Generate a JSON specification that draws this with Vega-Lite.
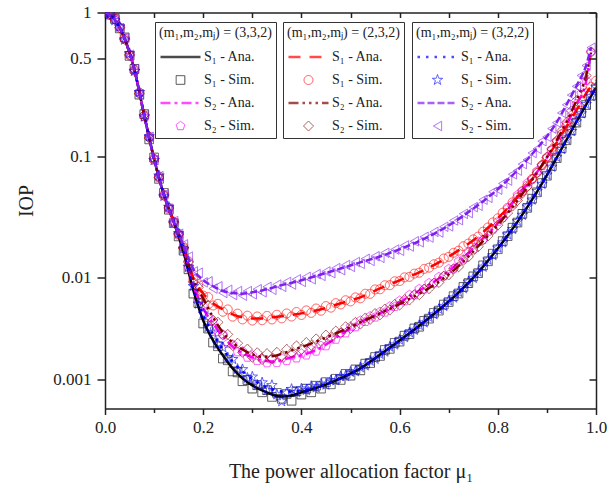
{
"$schema": "https://vega.github.io/schema/vega-lite/v6.json",
"width": 491, "height": 396,
"autosize": {"type": "none"},
"padding": {"left": 105, "top": 12.5, "right": 14, "bottom": 75.5},
"config": {
  "font": "Liberation Serif",
  "view": {"stroke": null},
  "axis": {"grid": false, "domainColor": "#222", "tickColor": "#222", "labelColor": "#222", "titleColor": "#222", "domainWidth": 1.5, "tickWidth": 1.5, "labelFontSize": 17, "titleFontSize": 20, "titleFontWeight": "normal", "labelFlush": false},
  "legend": {"orient": "none", "strokeColor": "#333", "padding": 4, "titleFontSize": 14, "titleFontWeight": "normal", "titleColor": "#222", "labelFontSize": 14, "labelColor": "#222", "titlePadding": 9, "rowPadding": 7, "clipHeight": 16, "labelOffset": 2, "symbolOffset": 0, "labelLimit": 0, "titleLimit": 0}
},
"datasets": {
"g1a": [
{"x":0,"S1A":1,"S2A":1},{"x":0.02,"S1A":0.9,"S2A":0.9},{"x":0.04,"S1A":0.676,"S2A":0.676},{"x":0.06,"S1A":0.417,"S2A":0.417},{"x":0.08,"S1A":0.2,"S2A":0.2},{"x":0.1,"S1A":0.0955,"S2A":0.0955},{"x":0.12,"S1A":0.0501,"S2A":0.0501},{"x":0.14,"S1A":0.0302,"S2A":0.0302},{"x":0.16,"S1A":0.0166,"S2A":0.0184},{"x":0.18,"S1A":0.0076,"S2A":0.00845},{"x":0.2,"S1A":0.00396,"S2A":0.00516},{"x":0.22,"S1A":0.00252,"S2A":0.00371},{"x":0.24,"S1A":0.00178,"S2A":0.00277},{"x":0.26,"S1A":0.0013,"S2A":0.00219},{"x":0.28,"S1A":0.00102,"S2A":0.00187},{"x":0.3,"S1A":0.000857,"S2A":0.0017},{"x":0.32,"S1A":0.000757,"S2A":0.00158},{"x":0.34,"S1A":0.000682,"S2A":0.00154},{"x":0.36,"S1A":0.000649,"S2A":0.00158},{"x":0.38,"S1A":0.000665,"S2A":0.0017},{"x":0.4,"S1A":0.000718,"S2A":0.00178},{"x":0.44,"S1A":0.000836,"S2A":0.00214},{"x":0.48,"S1A":0.00102,"S2A":0.00288},{"x":0.52,"S1A":0.0013,"S2A":0.0038},{"x":0.56,"S1A":0.0018,"S2A":0.00462},{"x":0.6,"S1A":0.00251,"S2A":0.00589},{"x":0.64,"S1A":0.00351,"S2A":0.00759},{"x":0.68,"S1A":0.00501,"S2A":0.00977},{"x":0.72,"S1A":0.00724,"S2A":0.0135},{"x":0.76,"S1A":0.0111,"S2A":0.02},{"x":0.8,"S1A":0.018,"S2A":0.0295},{"x":0.84,"S1A":0.0302,"S2A":0.049},{"x":0.88,"S1A":0.0531,"S2A":0.0759},{"x":0.9,"S1A":0.0716,"S2A":0.0977},{"x":0.92,"S1A":0.0977,"S2A":0.129},{"x":0.94,"S1A":0.133,"S2A":0.172},{"x":0.96,"S1A":0.18,"S2A":0.24},{"x":0.98,"S1A":0.24,"S2A":0.351},{"x":0.99,"S2A":0.562},{"x":1,"S1A":0.316}
],
"g2a": [
{"x":0,"S1A":1,"S2A":1},{"x":0.02,"S1A":0.9,"S2A":0.9},{"x":0.04,"S1A":0.676,"S2A":0.676},{"x":0.06,"S1A":0.417,"S2A":0.417},{"x":0.08,"S1A":0.2,"S2A":0.2},{"x":0.1,"S1A":0.0955,"S2A":0.0955},{"x":0.12,"S1A":0.0501,"S2A":0.0501},{"x":0.14,"S1A":0.0302,"S2A":0.0302},{"x":0.16,"S1A":0.0185,"S2A":0.0184},{"x":0.18,"S1A":0.00981,"S2A":0.0094},{"x":0.2,"S1A":0.00713,"S2A":0.00641},{"x":0.22,"S1A":0.00577,"S2A":0.00424},{"x":0.24,"S1A":0.00506,"S2A":0.00303},{"x":0.26,"S1A":0.00453,"S2A":0.0024},{"x":0.28,"S1A":0.00424,"S2A":0.00204},{"x":0.3,"S1A":0.00414,"S2A":0.00182},{"x":0.32,"S1A":0.00414,"S2A":0.00172},{"x":0.34,"S1A":0.00424,"S2A":0.00174},{"x":0.36,"S1A":0.00434,"S2A":0.00184},{"x":0.38,"S1A":0.00448,"S2A":0.002},{"x":0.4,"S1A":0.00463,"S2A":0.00216},{"x":0.44,"S1A":0.00506,"S2A":0.00257},{"x":0.48,"S1A":0.00577,"S2A":0.0031},{"x":0.52,"S1A":0.00655,"S2A":0.00379},{"x":0.56,"S1A":0.00793,"S2A":0.00462},{"x":0.6,"S1A":0.0094,"S2A":0.00569},{"x":0.64,"S1A":0.0111,"S2A":0.00708},{"x":0.68,"S1A":0.0136,"S2A":0.00912},{"x":0.72,"S1A":0.0173,"S2A":0.0126},{"x":0.76,"S1A":0.0228,"S2A":0.0188},{"x":0.8,"S1A":0.0324,"S2A":0.0285},{"x":0.84,"S1A":0.0479,"S2A":0.0453},{"x":0.88,"S1A":0.0753,"S2A":0.075},{"x":0.9,"S1A":0.0967,"S2A":0.0984},{"x":0.92,"S1A":0.127,"S2A":0.132},{"x":0.94,"S1A":0.167,"S2A":0.18},{"x":0.96,"S1A":0.218,"S2A":0.257},{"x":0.98,"S1A":0.288,"S2A":0.384},{"x":0.99,"S2A":0.55},{"x":1,"S1A":0.355}
],
"g3a": [
{"x":0,"S1A":1,"S2A":1},{"x":0.02,"S1A":0.9,"S2A":0.9},{"x":0.04,"S1A":0.676,"S2A":0.676},{"x":0.06,"S1A":0.417,"S2A":0.417},{"x":0.08,"S1A":0.2,"S2A":0.2},{"x":0.1,"S1A":0.0955,"S2A":0.0955},{"x":0.12,"S1A":0.0501,"S2A":0.0501},{"x":0.14,"S1A":0.0302,"S2A":0.0302},{"x":0.16,"S1A":0.017,"S2A":0.019},{"x":0.18,"S1A":0.00792,"S2A":0.0118},{"x":0.2,"S1A":0.00443,"S2A":0.0094},{"x":0.22,"S1A":0.0029,"S2A":0.0083},{"x":0.24,"S1A":0.00205,"S2A":0.0075},{"x":0.26,"S1A":0.00154,"S2A":0.0072},{"x":0.28,"S1A":0.00121,"S2A":0.0071},{"x":0.3,"S1A":0.000997,"S2A":0.0073},{"x":0.32,"S1A":0.000857,"S2A":0.0076},{"x":0.34,"S1A":0.000775,"S2A":0.008},{"x":0.36,"S1A":0.000736,"S2A":0.0085},{"x":0.38,"S1A":0.000736,"S2A":0.0089},{"x":0.4,"S1A":0.000755,"S2A":0.0094},{"x":0.44,"S1A":0.000857,"S2A":0.0106},{"x":0.48,"S1A":0.00104,"S2A":0.012},{"x":0.52,"S1A":0.0013,"S2A":0.0136},{"x":0.56,"S1A":0.0018,"S2A":0.0153},{"x":0.6,"S1A":0.00251,"S2A":0.0177},{"x":0.64,"S1A":0.00351,"S2A":0.0208},{"x":0.68,"S1A":0.00501,"S2A":0.0252},{"x":0.72,"S1A":0.00724,"S2A":0.0318},{"x":0.76,"S1A":0.0111,"S2A":0.0415},{"x":0.8,"S1A":0.018,"S2A":0.0556},{"x":0.84,"S1A":0.0302,"S2A":0.0782},{"x":0.88,"S1A":0.0531,"S2A":0.115},{"x":0.9,"S1A":0.0716,"S2A":0.141},{"x":0.92,"S1A":0.0977,"S2A":0.179},{"x":0.94,"S1A":0.133,"S2A":0.24},{"x":0.96,"S1A":0.18,"S2A":0.323},{"x":0.98,"S1A":0.24,"S2A":0.449},{"x":0.99,"S2A":0.593},{"x":1,"S1A":0.316}
],
"g1s": [
{"x":0,"S1S":1,"S2S":1},{"x":0.01,"S1S":0.97,"S2S":0.97},{"x":0.02,"S1S":0.91,"S2S":0.895},{"x":0.03,"S1S":0.79,"S2S":0.805},{"x":0.04,"S1S":0.69,"S2S":0.67},{"x":0.05,"S1S":0.52,"S2S":0.535},{"x":0.06,"S1S":0.425,"S2S":0.41},{"x":0.07,"S1S":0.282,"S2S":0.295},{"x":0.08,"S1S":0.205,"S2S":0.196},{"x":0.09,"S1S":0.134,"S2S":0.141},{"x":0.1,"S1S":0.098,"S2S":0.097},{"x":0.11,"S1S":0.067,"S2S":0.068},{"x":0.12,"S1S":0.052,"S2S":0.0508},{"x":0.13,"S1S":0.038,"S2S":0.0383},{"x":0.14,"S1S":0.0295,"S2S":0.0306},{"x":0.15,"S1S":0.0228,"S2S":0.0233},{"x":0.16,"S1S":0.0172,"S2S":0.0189},{"x":0.17,"S1S":0.0118,"S2S":0.0121},{"x":0.18,"S1S":0.0071,"S2S":0.0088},{"x":0.19,"S1S":0.0058,"S2S":0.0063},{"x":0.2,"S1S":0.0037,"S2S":0.0054},{"x":0.21,"S1S":0.0033,"S2S":0.0042},{"x":0.22,"S1S":0.0024,"S2S":0.0039},{"x":0.23,"S1S":0.0022,"S2S":0.00305},{"x":0.24,"S1S":0.00165,"S2S":0.0029},{"x":0.25,"S1S":0.00158,"S2S":0.00234},{"x":0.26,"S1S":0.00121,"S2S":0.0023},{"x":0.27,"S1S":0.00118,"S2S":0.00192},{"x":0.28,"S1S":0.00095,"S2S":0.00196},{"x":0.29,"S1S":0.00098,"S2S":0.00169},{"x":0.3,"S1S":0.00079,"S2S":0.00178},{"x":0.31,"S1S":0.00086,"S2S":0.00156},{"x":0.32,"S1S":0.00072,"S2S":0.00166},{"x":0.33,"S1S":0.00076,"S2S":0.00148},{"x":0.34,"S1S":0.00064,"S2S":0.00162},{"x":0.35,"S1S":0.00071,"S2S":0.00149},{"x":0.36,"S1S":0.00061,"S2S":0.00166},{"x":0.37,"S1S":0.00069,"S2S":0.00156},{"x":0.38,"S1S":0.00058,"S2S":0.00178},{"x":0.39,"S1S":0.00074,"S2S":0.00166},{"x":0.4,"S1S":0.00068,"S2S":0.00186},{"x":0.41,"S1S":0.00079,"S2S":0.00178},{"x":0.42,"S1S":0.00072,"S2S":0.00204},{"x":0.43,"S1S":0.00085,"S2S":0.00195},{"x":0.44,"S1S":0.00079,"S2S":0.00223},{"x":0.45,"S1S":0.00093,"S2S":0.00221},{"x":0.46,"S1S":0.00088,"S2S":0.00259},{"x":0.47,"S1S":0.00101,"S2S":0.00257},{"x":0.48,"S1S":0.00098,"S2S":0.003},{"x":0.49,"S1S":0.00114,"S2S":0.00297},{"x":0.5,"S1S":0.00109,"S2S":0.00345},{"x":0.51,"S1S":0.00127,"S2S":0.00341},{"x":0.52,"S1S":0.00124,"S2S":0.00396},{"x":0.53,"S1S":0.00146,"S2S":0.00384},{"x":0.54,"S1S":0.00148,"S2S":0.00436},{"x":0.55,"S1S":0.00171,"S2S":0.00424},{"x":0.56,"S1S":0.00175,"S2S":0.0048},{"x":0.57,"S1S":0.00202,"S2S":0.00473},{"x":0.58,"S1S":0.00207,"S2S":0.00541},{"x":0.59,"S1S":0.00238,"S2S":0.00535},{"x":0.6,"S1S":0.00245,"S2S":0.00611},{"x":0.61,"S1S":0.00281,"S2S":0.00605},{"x":0.62,"S1S":0.00291,"S2S":0.00692},{"x":0.63,"S1S":0.00331,"S2S":0.00688},{"x":0.64,"S1S":0.00344,"S2S":0.00786},{"x":0.65,"S1S":0.00392,"S2S":0.0078},{"x":0.66,"S1S":0.00412,"S2S":0.00889},{"x":0.67,"S1S":0.00468,"S2S":0.00887},{"x":0.68,"S1S":0.00492,"S2S":0.0101},{"x":0.69,"S1S":0.00561,"S2S":0.0103},{"x":0.7,"S1S":0.00592,"S2S":0.0119},{"x":0.71,"S1S":0.00672,"S2S":0.012},{"x":0.72,"S1S":0.00712,"S2S":0.0139},{"x":0.73,"S1S":0.00818,"S2S":0.0145},{"x":0.74,"S1S":0.00885,"S2S":0.0169},{"x":0.75,"S1S":0.0102,"S2S":0.0176},{"x":0.76,"S1S":0.0109,"S2S":0.0206},{"x":0.77,"S1S":0.0128,"S2S":0.0214},{"x":0.78,"S1S":0.0139,"S2S":0.025},{"x":0.79,"S1S":0.0162,"S2S":0.0261},{"x":0.8,"S1S":0.0177,"S2S":0.0303},{"x":0.81,"S1S":0.0208,"S2S":0.0327},{"x":0.82,"S1S":0.0229,"S2S":0.0389},{"x":0.83,"S1S":0.027,"S2S":0.0423},{"x":0.84,"S1S":0.0298,"S2S":0.0501},{"x":0.85,"S1S":0.0352,"S2S":0.0536},{"x":0.86,"S1S":0.0394,"S2S":0.0622},{"x":0.87,"S1S":0.0467,"S2S":0.0669},{"x":0.88,"S1S":0.0525,"S2S":0.0773},{"x":0.89,"S1S":0.0622,"S2S":0.0848},{"x":0.9,"S1S":0.0709,"S2S":0.0992},{"x":0.91,"S1S":0.0842,"S2S":0.111},{"x":0.92,"S1S":0.0968,"S2S":0.131},{"x":0.93,"S1S":0.115,"S2S":0.147},{"x":0.94,"S1S":0.132,"S2S":0.174},{"x":0.95,"S1S":0.156,"S2S":0.201},{"x":0.96,"S1S":0.178,"S2S":0.242},{"x":0.97,"S1S":0.209,"S2S":0.288},{"x":0.98,"S1S":0.238,"S2S":0.353},{"x":0.99,"S1S":0.277,"S2S":0.556},{"x":1,"S1S":0.312}
],
"g2s": [
{"x":0,"S1S":1,"S2S":1},{"x":0.01,"S1S":0.965,"S2S":0.98},{"x":0.02,"S1S":0.91,"S2S":0.905},{"x":0.03,"S1S":0.795,"S2S":0.8},{"x":0.04,"S1S":0.68,"S2S":0.67},{"x":0.05,"S1S":0.525,"S2S":0.528},{"x":0.06,"S1S":0.42,"S2S":0.42},{"x":0.07,"S1S":0.29,"S2S":0.286},{"x":0.08,"S1S":0.198,"S2S":0.203},{"x":0.09,"S1S":0.14,"S2S":0.137},{"x":0.1,"S1S":0.094,"S2S":0.096},{"x":0.11,"S1S":0.07,"S2S":0.0685},{"x":0.12,"S1S":0.0495,"S2S":0.0497},{"x":0.13,"S1S":0.0395,"S2S":0.0392},{"x":0.14,"S1S":0.0298,"S2S":0.0299},{"x":0.15,"S1S":0.024,"S2S":0.0239},{"x":0.16,"S1S":0.0182,"S2S":0.0181},{"x":0.17,"S1S":0.0139,"S2S":0.0137},{"x":0.18,"S1S":0.0095,"S2S":0.0091},{"x":0.19,"S1S":0.0087,"S2S":0.0081},{"x":0.2,"S1S":0.0068,"S2S":0.0061},{"x":0.21,"S1S":0.0066,"S2S":0.0055},{"x":0.22,"S1S":0.0055,"S2S":0.004},{"x":0.23,"S1S":0.0057,"S2S":0.0038},{"x":0.24,"S1S":0.0048,"S2S":0.00285},{"x":0.25,"S1S":0.00505,"S2S":0.00289},{"x":0.26,"S1S":0.00431,"S2S":0.00224},{"x":0.27,"S1S":0.0046,"S2S":0.00236},{"x":0.28,"S1S":0.00405,"S2S":0.00191},{"x":0.29,"S1S":0.0044,"S2S":0.00206},{"x":0.3,"S1S":0.00395,"S2S":0.0017},{"x":0.31,"S1S":0.00432,"S2S":0.00189},{"x":0.32,"S1S":0.00398,"S2S":0.00161},{"x":0.33,"S1S":0.00438,"S2S":0.00185},{"x":0.34,"S1S":0.00405,"S2S":0.00164},{"x":0.35,"S1S":0.00449,"S2S":0.00191},{"x":0.36,"S1S":0.00415,"S2S":0.00174},{"x":0.37,"S1S":0.00462,"S2S":0.00205},{"x":0.38,"S1S":0.00432,"S2S":0.00189},{"x":0.39,"S1S":0.00477,"S2S":0.00222},{"x":0.4,"S1S":0.00447,"S2S":0.00205},{"x":0.41,"S1S":0.00494,"S2S":0.0024},{"x":0.42,"S1S":0.00468,"S2S":0.00225},{"x":0.43,"S1S":0.00515,"S2S":0.00261},{"x":0.44,"S1S":0.00491,"S2S":0.00246},{"x":0.45,"S1S":0.00543,"S2S":0.00285},{"x":0.46,"S1S":0.00525,"S2S":0.0027},{"x":0.47,"S1S":0.00579,"S2S":0.00312},{"x":0.48,"S1S":0.00563,"S2S":0.00298},{"x":0.49,"S1S":0.00616,"S2S":0.00344},{"x":0.5,"S1S":0.00601,"S2S":0.0033},{"x":0.51,"S1S":0.00655,"S2S":0.0038},{"x":0.52,"S1S":0.00642,"S2S":0.00365},{"x":0.53,"S1S":0.00708,"S2S":0.00418},{"x":0.54,"S1S":0.00707,"S2S":0.00405},{"x":0.55,"S1S":0.00776,"S2S":0.00461},{"x":0.56,"S1S":0.00779,"S2S":0.00448},{"x":0.57,"S1S":0.00848,"S2S":0.00509},{"x":0.58,"S1S":0.00849,"S2S":0.00498},{"x":0.59,"S1S":0.00921,"S2S":0.00563},{"x":0.6,"S1S":0.00926,"S2S":0.00555},{"x":0.61,"S1S":0.01,"S2S":0.00625},{"x":0.62,"S1S":0.0101,"S2S":0.00619},{"x":0.63,"S1S":0.0108,"S2S":0.00696},{"x":0.64,"S1S":0.011,"S2S":0.00693},{"x":0.65,"S1S":0.0119,"S2S":0.00783},{"x":0.66,"S1S":0.0122,"S2S":0.00789},{"x":0.67,"S1S":0.0131,"S2S":0.00886},{"x":0.68,"S1S":0.0135,"S2S":0.00897},{"x":0.69,"S1S":0.0147,"S2S":0.0102},{"x":0.7,"S1S":0.0152,"S2S":0.0105},{"x":0.71,"S1S":0.0165,"S2S":0.0119},{"x":0.72,"S1S":0.0172,"S2S":0.0124},{"x":0.73,"S1S":0.0188,"S2S":0.0142},{"x":0.74,"S1S":0.0198,"S2S":0.0152},{"x":0.75,"S1S":0.0215,"S2S":0.0173},{"x":0.76,"S1S":0.0227,"S2S":0.0186},{"x":0.77,"S1S":0.025,"S2S":0.0212},{"x":0.78,"S1S":0.0271,"S2S":0.023},{"x":0.79,"S1S":0.0299,"S2S":0.026},{"x":0.8,"S1S":0.0323,"S2S":0.0283},{"x":0.81,"S1S":0.0359,"S2S":0.0323},{"x":0.82,"S1S":0.0393,"S2S":0.0357},{"x":0.83,"S1S":0.0436,"S2S":0.0407},{"x":0.84,"S1S":0.0478,"S2S":0.0451},{"x":0.85,"S1S":0.0535,"S2S":0.0517},{"x":0.86,"S1S":0.0592,"S2S":0.058},{"x":0.87,"S1S":0.067,"S2S":0.0664},{"x":0.88,"S1S":0.0751,"S2S":0.0747},{"x":0.89,"S1S":0.0855,"S2S":0.0862},{"x":0.9,"S1S":0.0965,"S2S":0.098},{"x":0.91,"S1S":0.111,"S2S":0.114},{"x":0.92,"S1S":0.127,"S2S":0.131},{"x":0.93,"S1S":0.146,"S2S":0.155},{"x":0.94,"S1S":0.167,"S2S":0.179},{"x":0.95,"S1S":0.19,"S2S":0.216},{"x":0.96,"S1S":0.218,"S2S":0.256},{"x":0.97,"S1S":0.25,"S2S":0.315},{"x":0.98,"S1S":0.287,"S2S":0.382},{"x":0.99,"S1S":0.32,"S2S":0.55},{"x":1,"S1S":0.352}
],
"g3s": [
{"x":0,"S1S":0.99,"S2S":0.99},{"x":0.01,"S1S":0.98,"S2S":0.975},{"x":0.02,"S1S":0.89,"S2S":0.9},{"x":0.03,"S1S":0.81,"S2S":0.79},{"x":0.04,"S1S":0.665,"S2S":0.685},{"x":0.05,"S1S":0.54,"S2S":0.53},{"x":0.06,"S1S":0.41,"S2S":0.425},{"x":0.07,"S1S":0.293,"S2S":0.283},{"x":0.08,"S1S":0.196,"S2S":0.201},{"x":0.09,"S1S":0.141,"S2S":0.14},{"x":0.1,"S1S":0.093,"S2S":0.0935},{"x":0.11,"S1S":0.071,"S2S":0.0705},{"x":0.12,"S1S":0.049,"S2S":0.0505},{"x":0.13,"S1S":0.04,"S2S":0.0388},{"x":0.14,"S1S":0.0296,"S2S":0.0307},{"x":0.15,"S1S":0.0242,"S2S":0.024},{"x":0.16,"S1S":0.0178,"S2S":0.0195},{"x":0.17,"S1S":0.0124,"S2S":0.0153},{"x":0.18,"S1S":0.0083,"S2S":0.0113},{"x":0.19,"S1S":0.0057,"S2S":0.011},{"x":0.2,"S1S":0.0046,"S2S":0.009},{"x":0.21,"S1S":0.0034,"S2S":0.0092},{"x":0.22,"S1S":0.003,"S2S":0.0079},{"x":0.23,"S1S":0.00232,"S2S":0.0083},{"x":0.24,"S1S":0.00214,"S2S":0.0072},{"x":0.25,"S1S":0.00169,"S2S":0.0077},{"x":0.26,"S1S":0.00162,"S2S":0.0069},{"x":0.27,"S1S":0.00128,"S2S":0.0075},{"x":0.28,"S1S":0.00127,"S2S":0.0068},{"x":0.29,"S1S":0.00103,"S2S":0.0075},{"x":0.3,"S1S":0.00106,"S2S":0.007},{"x":0.31,"S1S":0.00087,"S2S":0.0078},{"x":0.32,"S1S":0.00092,"S2S":0.0073},{"x":0.33,"S1S":0.00076,"S2S":0.0082},{"x":0.34,"S1S":0.00086,"S2S":0.0077},{"x":0.35,"S1S":0.00068,"S2S":0.0086},{"x":0.36,"S1S":0.00057,"S2S":0.0082},{"x":0.37,"S1S":0.00071,"S2S":0.0091},{"x":0.38,"S1S":0.00078,"S2S":0.0086},{"x":0.39,"S1S":0.00072,"S2S":0.0096},{"x":0.4,"S1S":0.00079,"S2S":0.0091},{"x":0.41,"S1S":0.00076,"S2S":0.0101},{"x":0.42,"S1S":0.00084,"S2S":0.0096},{"x":0.43,"S1S":0.00081,"S2S":0.0107},{"x":0.44,"S1S":0.00089,"S2S":0.0103},{"x":0.45,"S1S":0.00087,"S2S":0.0113},{"x":0.46,"S1S":0.00097,"S2S":0.0109},{"x":0.47,"S1S":0.00097,"S2S":0.0121},{"x":0.48,"S1S":0.00107,"S2S":0.0116},{"x":0.49,"S1S":0.00108,"S2S":0.0129},{"x":0.5,"S1S":0.00119,"S2S":0.0124},{"x":0.51,"S1S":0.00121,"S2S":0.0137},{"x":0.52,"S1S":0.00133,"S2S":0.0132},{"x":0.53,"S1S":0.00139,"S2S":0.0146},{"x":0.54,"S1S":0.00156,"S2S":0.014},{"x":0.55,"S1S":0.00163,"S2S":0.0154},{"x":0.56,"S1S":0.00183,"S2S":0.0149},{"x":0.57,"S1S":0.00193,"S2S":0.0165},{"x":0.58,"S1S":0.00217,"S2S":0.016},{"x":0.59,"S1S":0.00228,"S2S":0.0176},{"x":0.6,"S1S":0.00255,"S2S":0.0172},{"x":0.61,"S1S":0.0027,"S2S":0.0191},{"x":0.62,"S1S":0.00302,"S2S":0.0187},{"x":0.63,"S1S":0.00319,"S2S":0.0207},{"x":0.64,"S1S":0.00356,"S2S":0.0203},{"x":0.65,"S1S":0.00377,"S2S":0.0226},{"x":0.66,"S1S":0.00426,"S2S":0.0223},{"x":0.67,"S1S":0.00452,"S2S":0.0249},{"x":0.68,"S1S":0.00508,"S2S":0.0246},{"x":0.69,"S1S":0.00542,"S2S":0.0275},{"x":0.7,"S1S":0.0061,"S2S":0.0277},{"x":0.71,"S1S":0.0065,"S2S":0.031},{"x":0.72,"S1S":0.00733,"S2S":0.0312},{"x":0.73,"S1S":0.00792,"S2S":0.0352},{"x":0.74,"S1S":0.0091,"S2S":0.0357},{"x":0.75,"S1S":0.00985,"S2S":0.0399},{"x":0.76,"S1S":0.0112,"S2S":0.0409},{"x":0.77,"S1S":0.0124,"S2S":0.0458},{"x":0.78,"S1S":0.0143,"S2S":0.0474},{"x":0.79,"S1S":0.0157,"S2S":0.053},{"x":0.8,"S1S":0.0182,"S2S":0.0551},{"x":0.81,"S1S":0.0202,"S2S":0.0617},{"x":0.82,"S1S":0.0236,"S2S":0.065},{"x":0.83,"S1S":0.0262,"S2S":0.0728},{"x":0.84,"S1S":0.0305,"S2S":0.0777},{"x":0.85,"S1S":0.0344,"S2S":0.0873},{"x":0.86,"S1S":0.0403,"S2S":0.0941},{"x":0.87,"S1S":0.0457,"S2S":0.106},{"x":0.88,"S1S":0.0536,"S2S":0.114},{"x":0.89,"S1S":0.061,"S2S":0.13},{"x":0.9,"S1S":0.0722,"S2S":0.14},{"x":0.91,"S1S":0.0829,"S2S":0.161},{"x":0.92,"S1S":0.0985,"S2S":0.178},{"x":0.93,"S1S":0.113,"S2S":0.209},{"x":0.94,"S1S":0.134,"S2S":0.239},{"x":0.95,"S1S":0.154,"S2S":0.28},{"x":0.96,"S1S":0.181,"S2S":0.322},{"x":0.97,"S1S":0.207,"S2S":0.383},{"x":0.98,"S1S":0.241,"S2S":0.448},{"x":0.99,"S1S":0.275,"S2S":0.59},{"x":1,"S1S":0.318}
]
},
"layer": [
  {"data": {"name": "g1s"},
   "transform": [{"fold": ["S1S","S2S"], "as": ["k","y"]}, {"filter": "isValid(datum.y)"}],
   "mark": {"type": "point", "filled": false, "clip": true},
   "encoding": {
    "x": {"field": "x", "type": "quantitative", "scale": {"domain": [0,1], "nice": false}, "axis": {"orient": "bottom", "values": [0,0.2,0.4,0.6,0.8,1], "format": ".1f", "tickSize": 6, "labelPadding": 5, "title": "The power allocation factor μ₁", "titleBaseline": "alphabetic", "titleY": 69}},
    "y": {"field": "y", "type": "quantitative", "scale": {"type": "pow", "exponent": 0.075, "domain": [0.000475, 1], "nice": false, "zero": false}, "axis": {"orient": "left", "values": [0.001,0.01,0.1,0.5,1], "format": "~g", "tickSize": 8, "labelPadding": 6, "title": "IOP", "titleX": -73, "titleY": 188, "titleBaseline": "alphabetic", "titleAlign": "center"}},
    "color": {"field": "k", "type": "nominal", "scale": {"domain": ["S1A","S1S","S2A","S2S"], "range": ["#000000","#000000","#FF00FF","#FF00FF"]}, "legend": {"title": "(m₁,m₂,mⱼ) = (3,3,2)", "orient": "none", "legendX": 50, "legendY": 9.5, "labelExpr": "datum.label == 'S1A' ? 'S₁ - Ana.' : datum.label == 'S1S' ? 'S₁ - Sim.' : datum.label == 'S2A' ? 'S₂ - Ana.' : 'S₂ - Sim.'"}},
    "shape": {"field": "k", "type": "nominal", "scale": {"domain": ["S1A","S1S","S2A","S2S"], "range": ["M-1,0H1","square","M-1,0H1","M0,-1L0.951,-0.309L0.588,0.809L-0.588,0.809L-0.951,-0.309Z"]}, "legend": {"title": "(m₁,m₂,mⱼ) = (3,3,2)", "orient": "none", "legendX": 50, "legendY": 9.5, "labelExpr": "datum.label == 'S1A' ? 'S₁ - Ana.' : datum.label == 'S1S' ? 'S₁ - Sim.' : datum.label == 'S2A' ? 'S₂ - Ana.' : 'S₂ - Sim.'"}},
    "size": {"field": "k", "type": "nominal", "scale": {"type": "ordinal", "domain": ["S1A","S1S","S2A","S2S"], "range": [1600,75,1600,85]}, "legend": {"title": "(m₁,m₂,mⱼ) = (3,3,2)", "orient": "none", "legendX": 50, "legendY": 9.5, "labelExpr": "datum.label == 'S1A' ? 'S₁ - Ana.' : datum.label == 'S1S' ? 'S₁ - Sim.' : datum.label == 'S2A' ? 'S₂ - Ana.' : 'S₂ - Sim.'"}},
    "strokeDash": {"field": "k", "type": "nominal", "scale": {"domain": ["S1A","S1S","S2A","S2S"], "range": [[1,0],[1,0],[10,4,3,4],[1,0]]}, "legend": {"title": "(m₁,m₂,mⱼ) = (3,3,2)", "orient": "none", "legendX": 50, "legendY": 9.5, "labelExpr": "datum.label == 'S1A' ? 'S₁ - Ana.' : datum.label == 'S1S' ? 'S₁ - Sim.' : datum.label == 'S2A' ? 'S₂ - Ana.' : 'S₂ - Sim.'"}},
    "strokeWidth": {"field": "k", "type": "nominal", "scale": {"type": "ordinal", "domain": ["S1A","S1S","S2A","S2S"], "range": [2.5,1,2.5,1]}, "legend": {"title": "(m₁,m₂,mⱼ) = (3,3,2)", "orient": "none", "legendX": 50, "legendY": 9.5, "labelExpr": "datum.label == 'S1A' ? 'S₁ - Ana.' : datum.label == 'S1S' ? 'S₁ - Sim.' : datum.label == 'S2A' ? 'S₂ - Ana.' : 'S₂ - Sim.'"}}
   }},
  {"data": {"name": "g1a"},
   "transform": [{"filter": "isValid(datum.S1A)"}],
   "mark": {"type": "line", "clip": true, "interpolate": "monotone", "color": "#000000", "strokeWidth": 2.5},
   "encoding": {"x": {"field": "x", "type": "quantitative", "axis": null}, "y": {"field": "S1A", "type": "quantitative", "axis": null}}},
  {"data": {"name": "g1a"},
   "transform": [{"filter": "isValid(datum.S2A)"}],
   "mark": {"type": "line", "clip": true, "interpolate": "monotone", "color": "#FF00FF", "strokeWidth": 2.5, "strokeDash": [10,4,3,4]},
   "encoding": {"x": {"field": "x", "type": "quantitative", "axis": null}, "y": {"field": "S2A", "type": "quantitative", "axis": null}}},
  {"data": {"name": "g2s"},
   "transform": [{"fold": ["S1S","S2S"], "as": ["k","y"]}, {"filter": "isValid(datum.y)"}],
   "mark": {"type": "point", "filled": false, "clip": true},
   "encoding": {
    "x": {"field": "x", "type": "quantitative", "axis": {"orient": "top", "values": [0,0.1,0.2,0.3,0.4,0.5,0.6,0.7,0.8,0.9,1], "labels": false, "tickSize": -5, "title": null}},
    "y": {"field": "y", "type": "quantitative", "axis": {"orient": "right", "values": [0.001,0.01,0.1,0.5,1], "labels": false, "tickSize": -7, "title": null}},
    "color": {"field": "k", "type": "nominal", "scale": {"domain": ["S1A","S1S","S2A","S2S"], "range": ["#FF0000","#FF0000","#800000","#800000"]}, "legend": {"title": "(m₁,m₂,mⱼ) = (2,3,2)", "orient": "none", "legendX": 178, "legendY": 9.5, "labelExpr": "datum.label == 'S1A' ? 'S₁ - Ana.' : datum.label == 'S1S' ? 'S₁ - Sim.' : datum.label == 'S2A' ? 'S₂ - Ana.' : 'S₂ - Sim.'"}},
    "shape": {"field": "k", "type": "nominal", "scale": {"domain": ["S1A","S1S","S2A","S2S"], "range": ["M-1,0H1","circle","M-1,0H1","diamond"]}, "legend": {"title": "(m₁,m₂,mⱼ) = (2,3,2)", "orient": "none", "legendX": 178, "legendY": 9.5, "labelExpr": "datum.label == 'S1A' ? 'S₁ - Ana.' : datum.label == 'S1S' ? 'S₁ - Sim.' : datum.label == 'S2A' ? 'S₂ - Ana.' : 'S₂ - Sim.'"}},
    "size": {"field": "k", "type": "nominal", "scale": {"type": "ordinal", "domain": ["S1A","S1S","S2A","S2S"], "range": [1600,80,1600,100]}, "legend": {"title": "(m₁,m₂,mⱼ) = (2,3,2)", "orient": "none", "legendX": 178, "legendY": 9.5, "labelExpr": "datum.label == 'S1A' ? 'S₁ - Ana.' : datum.label == 'S1S' ? 'S₁ - Sim.' : datum.label == 'S2A' ? 'S₂ - Ana.' : 'S₂ - Sim.'"}},
    "strokeDash": {"field": "k", "type": "nominal", "scale": {"domain": ["S1A","S1S","S2A","S2S"], "range": [[12,9],[1,0],[10,4,2.5,4,2.5,4,2.5,4],[1,0]]}, "legend": {"title": "(m₁,m₂,mⱼ) = (2,3,2)", "orient": "none", "legendX": 178, "legendY": 9.5, "labelExpr": "datum.label == 'S1A' ? 'S₁ - Ana.' : datum.label == 'S1S' ? 'S₁ - Sim.' : datum.label == 'S2A' ? 'S₂ - Ana.' : 'S₂ - Sim.'"}},
    "strokeWidth": {"field": "k", "type": "nominal", "scale": {"type": "ordinal", "domain": ["S1A","S1S","S2A","S2S"], "range": [2.5,1,2.5,1]}, "legend": {"title": "(m₁,m₂,mⱼ) = (2,3,2)", "orient": "none", "legendX": 178, "legendY": 9.5, "labelExpr": "datum.label == 'S1A' ? 'S₁ - Ana.' : datum.label == 'S1S' ? 'S₁ - Sim.' : datum.label == 'S2A' ? 'S₂ - Ana.' : 'S₂ - Sim.'"}}
   }},
  {"data": {"name": "g2a"},
   "transform": [{"filter": "isValid(datum.S1A)"}],
   "mark": {"type": "line", "clip": true, "interpolate": "monotone", "color": "#FF0000", "strokeWidth": 2.5, "strokeDash": [12,9]},
   "encoding": {"x": {"field": "x", "type": "quantitative", "axis": null}, "y": {"field": "S1A", "type": "quantitative", "axis": null}}},
  {"data": {"name": "g2a"},
   "transform": [{"filter": "isValid(datum.S2A)"}],
   "mark": {"type": "line", "clip": true, "interpolate": "monotone", "color": "#800000", "strokeWidth": 2.5, "strokeDash": [10,4,2.5,4,2.5,4,2.5,4]},
   "encoding": {"x": {"field": "x", "type": "quantitative", "axis": null}, "y": {"field": "S2A", "type": "quantitative", "axis": null}}},
  {"data": {"name": "g3s"},
   "transform": [{"fold": ["S1S","S2S"], "as": ["k","y"]}, {"filter": "isValid(datum.y)"}],
   "mark": {"type": "point", "filled": false, "clip": true},
   "encoding": {
    "x": {"field": "x", "type": "quantitative", "axis": {"orient": "bottom", "values": [0.1,0.3,0.5,0.7,0.9], "labels": false, "domain": false, "tickSize": 4, "title": null}},
    "y": {"field": "y", "type": "quantitative", "axis": null},
    "color": {"field": "k", "type": "nominal", "scale": {"domain": ["S1A","S1S","S2A","S2S"], "range": ["#0000FF","#0000FF","#8020F0","#8020F0"]}, "legend": {"title": "(m₁,m₂,mⱼ) = (3,2,2)", "orient": "none", "legendX": 307, "legendY": 9.5, "labelExpr": "datum.label == 'S1A' ? 'S₁ - Ana.' : datum.label == 'S1S' ? 'S₁ - Sim.' : datum.label == 'S2A' ? 'S₂ - Ana.' : 'S₂ - Sim.'"}},
    "shape": {"field": "k", "type": "nominal", "scale": {"domain": ["S1A","S1S","S2A","S2S"], "range": ["M-1,0H1","M0,-1L0.235,-0.324L0.951,-0.309L0.38,0.124L0.588,0.809L0,0.4L-0.588,0.809L-0.38,0.124L-0.951,-0.309L-0.235,-0.324Z","M-1,0H1","triangle-left"]}, "legend": {"title": "(m₁,m₂,mⱼ) = (3,2,2)", "orient": "none", "legendX": 307, "legendY": 9.5, "labelExpr": "datum.label == 'S1A' ? 'S₁ - Ana.' : datum.label == 'S1S' ? 'S₁ - Sim.' : datum.label == 'S2A' ? 'S₂ - Ana.' : 'S₂ - Sim.'"}},
    "size": {"field": "k", "type": "nominal", "scale": {"type": "ordinal", "domain": ["S1A","S1S","S2A","S2S"], "range": [1600,120,1600,90]}, "legend": {"title": "(m₁,m₂,mⱼ) = (3,2,2)", "orient": "none", "legendX": 307, "legendY": 9.5, "labelExpr": "datum.label == 'S1A' ? 'S₁ - Ana.' : datum.label == 'S1S' ? 'S₁ - Sim.' : datum.label == 'S2A' ? 'S₂ - Ana.' : 'S₂ - Sim.'"}},
    "strokeDash": {"field": "k", "type": "nominal", "scale": {"domain": ["S1A","S1S","S2A","S2S"], "range": [[2.5,6],[1,0],[7,3],[1,0]]}, "legend": {"title": "(m₁,m₂,mⱼ) = (3,2,2)", "orient": "none", "legendX": 307, "legendY": 9.5, "labelExpr": "datum.label == 'S1A' ? 'S₁ - Ana.' : datum.label == 'S1S' ? 'S₁ - Sim.' : datum.label == 'S2A' ? 'S₂ - Ana.' : 'S₂ - Sim.'"}},
    "strokeWidth": {"field": "k", "type": "nominal", "scale": {"type": "ordinal", "domain": ["S1A","S1S","S2A","S2S"], "range": [2.5,1,2.5,1]}, "legend": {"title": "(m₁,m₂,mⱼ) = (3,2,2)", "orient": "none", "legendX": 307, "legendY": 9.5, "labelExpr": "datum.label == 'S1A' ? 'S₁ - Ana.' : datum.label == 'S1S' ? 'S₁ - Sim.' : datum.label == 'S2A' ? 'S₂ - Ana.' : 'S₂ - Sim.'"}}
   }},
  {"data": {"name": "g3a"},
   "transform": [{"filter": "isValid(datum.S1A)"}],
   "mark": {"type": "line", "clip": true, "interpolate": "monotone", "color": "#0000FF", "strokeWidth": 2.5, "strokeDash": [2.5,6]},
   "encoding": {"x": {"field": "x", "type": "quantitative", "axis": null}, "y": {"field": "S1A", "type": "quantitative", "axis": null}}},
  {"data": {"name": "g3a"},
   "transform": [{"filter": "isValid(datum.S2A)"}],
   "mark": {"type": "line", "clip": true, "interpolate": "monotone", "color": "#8020F0", "strokeWidth": 2.5, "strokeDash": [7,3]},
   "encoding": {"x": {"field": "x", "type": "quantitative", "axis": null}, "y": {"field": "S2A", "type": "quantitative", "axis": null}}}
],
"resolve": {"scale": {"color": "independent", "shape": "independent", "size": "independent", "strokeDash": "independent", "strokeWidth": "independent"}}
}
